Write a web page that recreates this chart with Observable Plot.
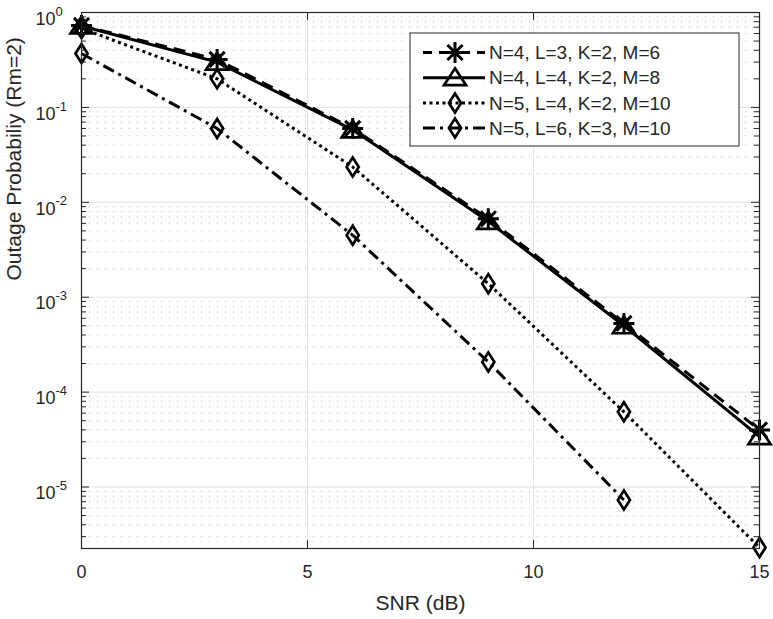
<!DOCTYPE html>
<html><head><meta charset="utf-8">
<script src="https://cdn.jsdelivr.net/npm/d3@7"></script>
<script src="https://cdn.jsdelivr.net/npm/@observablehq/plot@0.6"></script>
<style>
body{margin:0;background:#fff}
#chart svg{font-family:"Liberation Sans",Arial,Helvetica,sans-serif}
</style>
</head><body><div id="chart"></div>
<script>
// ---- data ----
const snr = [0, 3, 6, 9, 12, 15];
const seriesNames = [
  "N=4, L=3, K=2, M=6",
  "N=4, L=4, K=2, M=8",
  "N=5, L=4, K=2, M=10",
  "N=5, L=6, K=3, M=10"
];
const s1 = [0.73, 0.32, 0.060, 0.0067, 5.3e-4, 4.0e-5];
const s2 = [0.72, 0.30, 0.058, 0.0063, 5.0e-4, 3.4e-5];
const s3 = [0.68, 0.20, 0.0236, 0.00139, 6.2e-5, 2.3e-6];
const s4 = [0.37, 0.060, 0.0045, 2.08e-4, 7.3e-6];
const xTicks = [0, 5, 10, 15];
const xTickLabels = ["0", "5", "10", "15"];
const yTicks = [1e-5, 1e-4, 1e-3, 1e-2, 1e-1, 1];
const yTickExps = ["-5", "-4", "-3", "-2", "-1", "0"];
const xLabel = "SNR (dB)";
const yLabel = "Outage Probabiliy (Rm=2)";

// ---- layout / style ----
const W = 773, H = 619;
const mL = 81, mR = 14, mT = 12, mB = 71;
const pw = W - mL - mR, ph = H - mT - mB;
const ink = "#262626";

const asterisk = {draw(c, size){const r=Math.sqrt(size/Math.PI), d=r*0.72;
  c.moveTo(0,-r);c.lineTo(0,r);c.moveTo(-r,0);c.lineTo(r,0);
  c.moveTo(-d,-d);c.lineTo(d,d);c.moveTo(-d,d);c.lineTo(d,-d);}};
const triangle = {draw(c, size){const r=Math.sqrt(size/Math.PI);
  c.moveTo(0,-0.85*r);c.lineTo(r,0.68*r);c.lineTo(-r,0.68*r);c.closePath();}};
const diamond = {draw(c, size){const r=Math.sqrt(size/Math.PI);
  c.moveTo(0,-r);c.lineTo(0.64*r,0);c.lineTo(0,r);c.lineTo(-0.64*r,0);c.closePath();}};

const values = [s1, s2, s3, s4];
const styles = [
  {dash: "12,7", sym: asterisk, r: 10.5, sw: 3, legOff: 3},
  {dash: null, sym: triangle, r: 11, sw: 2.7, legOff: 0},
  {dash: "3,3.5", sym: diamond, r: 9.5, sw: 2.7, legOff: 0},
  {dash: "12,5,3,5", sym: diamond, r: 9.5, sw: 2.7, legOff: 0}
];
const series = values.map((v, i) => v.map((p, j) => ({snr: snr[j], p, name: seriesNames[i]})));

// minor log grid values
const [yMin, yMax] = [2.25e-6, 1];
const yMinor = [];
for (let e = -6; e < 0; e++) for (let k = 2; k <= 9; k++) { const v = k * Math.pow(10, e); if (v > yMin && v < yMax) yMinor.push(v); }

const marks = [
  Plot.ruleY(yMinor, {y: d => d, stroke: "#b3b3b3", strokeWidth: 1, strokeDasharray: "1,7"}),
  Plot.ruleY(yTicks, {y: d => d, stroke: "#e2e2e2", strokeWidth: 1}),
  Plot.ruleX(xTicks, {x: d => d, stroke: "#e2e2e2", strokeWidth: 1}),
];
series.forEach((data, i) => {
  const st = styles[i];
  marks.push(Plot.line(data, {x: "snr", y: "p", stroke: "#000", strokeWidth: 3,
    strokeDasharray: st.dash || undefined, strokeLinecap: "butt", strokeLinejoin: "miter"}));
});
series.forEach((data, i) => {
  const st = styles[i];
  marks.push(Plot.dot(data, {x: "snr", y: "p", symbol: st.sym, r: st.r, stroke: "#000", fill: "none", strokeWidth: st.sw}));
});
marks.push(
  Plot.frame({stroke: ink, strokeWidth: 1.2}),
  // inward tick marks: left/right major + minor, bottom/top major
  Plot.tickY(yTicks, {y: d => d, stroke: ink, insetRight: pw - 8}),
  Plot.tickY(yTicks, {y: d => d, stroke: ink, insetLeft: pw - 8}),
  Plot.tickY(yMinor, {y: d => d, stroke: ink, insetRight: pw - 5}),
  Plot.tickY(yMinor, {y: d => d, stroke: ink, insetLeft: pw - 5}),
  Plot.tickX(xTicks, {x: d => d, stroke: ink, insetTop: ph - 8}),
  Plot.tickX(xTicks, {x: d => d, stroke: ink, insetBottom: ph - 8}),
  // tick labels
  Plot.text(xTicks, {x: d => d, frameAnchor: "bottom", text: (d, i) => xTickLabels[i], dy: 24, lineAnchor: "middle", fill: ink, fontSize: 18}),
  Plot.text(yTicks, {y: d => d, frameAnchor: "left", text: () => "10", textAnchor: "start", dx: -46, dy: 6.5, lineAnchor: "middle", fill: ink, fontSize: 18}),
  Plot.text(yTicks, {y: d => d, frameAnchor: "left", text: (d, i) => yTickExps[i], textAnchor: "start", dx: -26, dy: -1, lineAnchor: "middle", fill: ink, fontSize: 13}),
  // axis labels
  Plot.text([xLabel], {frameAnchor: "bottom", text: d => d, dy: 55, lineAnchor: "middle", fill: ink, fontSize: 21}),
  Plot.text([yLabel], {frameAnchor: "left", text: d => d, rotate: -90, dx: -67, lineAnchor: "middle", fill: ink, fontSize: 21})
);

const plot = Plot.plot({
  width: W, height: H,
  marginLeft: mL, marginRight: mR, marginTop: mT, marginBottom: mB,
  x: {domain: [0, 15], axis: null},
  y: {type: "log", domain: [yMin, yMax], axis: null},
  style: {background: "#fff", color: ink, fontFamily: "'Liberation Sans', Arial, sans-serif"},
  marks
});

// ---- legend box ----
const svg = d3.select(plot);
const lg = svg.append("g").attr("text-anchor", "start");
lg.append("rect").attr("x", 410).attr("y", 33).attr("width", 329).attr("height", 113)
  .attr("fill", "#fff").attr("stroke", ink).attr("stroke-width", 1);
seriesNames.forEach((name, i) => {
  const st = styles[i];
  const y = 52.5 + i * 25.2;
  lg.append("line").attr("x1", 423).attr("x2", 485).attr("y1", y).attr("y2", y)
    .attr("stroke", "#000").attr("stroke-width", 3).attr("stroke-dasharray", st.dash)
    .attr("stroke-dashoffset", st.legOff).attr("stroke-linecap", "butt");
  lg.append("path").attr("d", d3.symbol(st.sym, st.r * st.r * Math.PI)())
    .attr("transform", `translate(455,${y})`).attr("fill", "none").attr("stroke", "#000").attr("stroke-width", st.sw);
  lg.append("text").attr("x", 489).attr("y", y).attr("dy", "0.35em")
    .attr("text-anchor", "start").style("font-size", "19px").attr("fill", ink).text(name);
});

document.getElementById("chart").appendChild(plot);
</script>
</body></html>
